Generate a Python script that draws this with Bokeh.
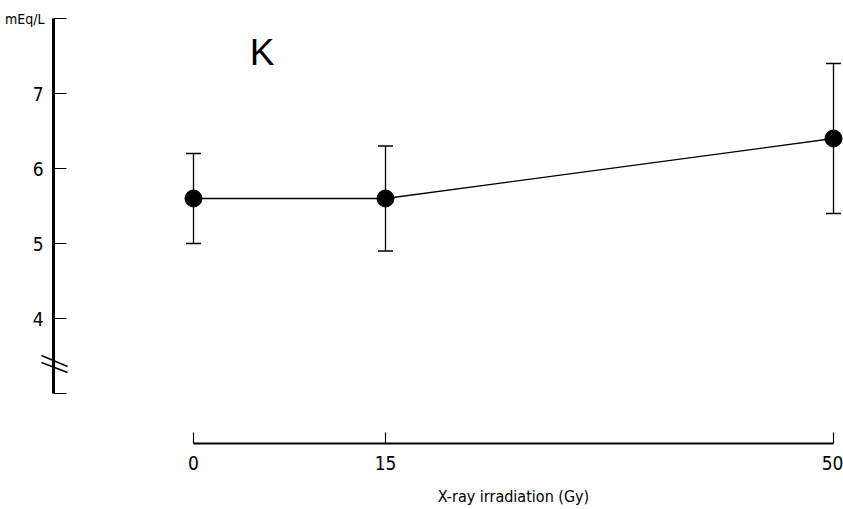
from bokeh.plotting import figure
from bokeh.models import (Range1d, FixedTicker, Whisker, TeeHead, ColumnDataSource, Label)
from bokeh.embed import file_html
from bokeh.resources import INLINE

dose = [0, 15, 50]
potassium = [5.6, 5.6, 6.4]
upper = [6.2, 6.3, 7.4]
lower = [5.0, 4.9, 5.4]
x_ticks = [0, 15, 50]
y_ticks = [3, 4, 5, 6, 7, 8]
y_labels = {3: "", 8: "", 4: "4", 5: "5", 6: "6", 7: "7"}
title_text = "K"
x_title = "X-ray irradiation (Gy)"
y_unit = "mEq/L"

FONT = "Liberation Sans Narrow, DejaVu Sans Condensed, sans-serif"

X_AXIS_Y = 7 - (443 - 93) / 75

p = figure(width=843, height=509, output_backend="svg", toolbar_location=None,
           x_range=Range1d(-193 / 12.8, 650 / 12.8),
           y_range=Range1d(7 - (509 - 93) / 75, 7 + (93 - 0) / 75),
           min_border_left=0, min_border_right=0, min_border_top=0, min_border_bottom=0)
p.outline_line_color = None
p.grid.visible = False
p.background_fill_color = "white"
p.border_fill_color = "white"

# y axis
ya = p.yaxis[0]
ya.fixed_location = -140 / 12.8
ya.ticker = FixedTicker(ticks=y_ticks)
ya.major_label_overrides = y_labels
ya.bounds = (3, 8)
ya.axis_line_width = 3
ya.axis_line_color = "black"
ya.major_tick_in = 13
ya.major_tick_out = 0
ya.major_tick_line_width = 1.2
ya.minor_tick_line_color = None
ya.major_label_text_font = FONT
ya.major_label_text_font_size = "19px"
ya.major_label_text_color = "black"
ya.major_label_standoff = 10

# x axis
xa = p.xaxis[0]
xa.fixed_location = X_AXIS_Y
xa.ticker = FixedTicker(ticks=x_ticks)
xa.bounds = (0, 50)
xa.axis_line_width = 2
xa.axis_line_color = "black"
xa.major_tick_in = 11
xa.major_tick_out = 0
xa.major_tick_line_width = 1.2
xa.minor_tick_line_color = None
xa.major_label_text_font = FONT
xa.major_label_text_font_size = "19px"
xa.major_label_text_color = "black"
xa.major_label_standoff = 12

src = ColumnDataSource(dict(x=dose, y=potassium, upper=upper, lower=lower))

p.line("x", "y", source=src, line_color="black", line_width=1.3)
w = Whisker(base="x", upper="upper", lower="lower", source=src,
            line_color="black", line_width=1.3,
            upper_head=TeeHead(size=15, line_color="black", line_width=1.3),
            lower_head=TeeHead(size=15, line_color="black", line_width=1.3))
p.add_layout(w)
p.scatter("x", "y", source=src, size=17, fill_color="black", line_color="black")

# axis break marks
p.segment(x0=[-11.875, -11.875], y0=[3.507, 3.413], x1=[-9.84, -9.84], y1=[3.36, 3.28],
          line_color="black", line_width=1.5)

p.add_layout(Label(x=4.4, y=7.553, text=title_text, text_font="Liberation Sans, sans-serif",
                   text_font_size="37px", text_color="black", text_baseline="middle"))
p.add_layout(Label(x=-11.64, y=8.0, text=y_unit, text_font=FONT, text_align="right",
                   text_font_size="14px", text_color="black", text_baseline="middle"))
p.add_layout(Label(x=25, y=X_AXIS_Y, y_offset=-53, text=x_title, text_font=FONT, text_align="center",
                   text_font_size="16px", text_color="black", text_baseline="middle"))

open("out.html", "w").write(file_html(p, INLINE))
